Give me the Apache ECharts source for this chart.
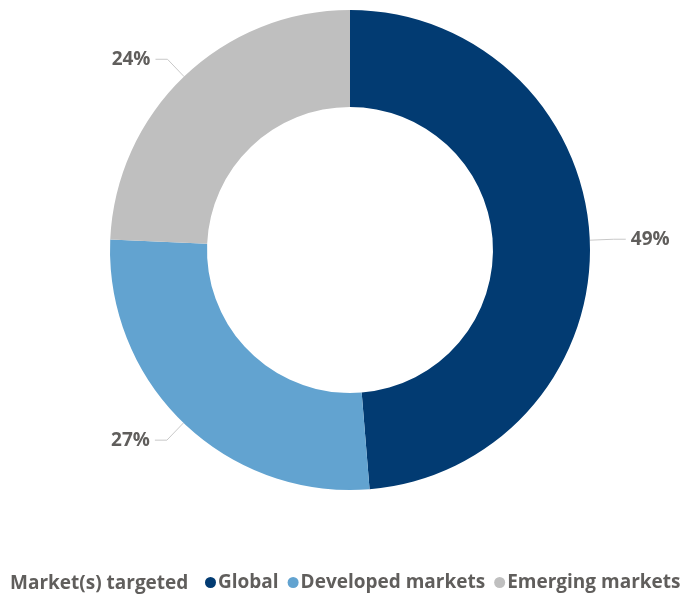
<!DOCTYPE html>
<html><head><meta charset="utf-8">
<script src="https://cdn.jsdelivr.net/npm/echarts@6/dist/echarts.min.js"></script>
<style>html,body{margin:0;padding:0;background:#fff}#c{width:686px;height:595px}</style>
</head><body><div id="c"></div>
<script>
var categories = ['Global', 'Developed markets', 'Emerging markets'];
var values = [48.7, 27.0, 24.3];
var colors = ['#023b72', '#62a3d0', '#bfbfbf'];
var legendTitle = 'Market(s) targeted';

var chart = echarts.init(document.getElementById('c'));
var txt = '#605e5c';
var font = '"Open Sans", "Noto Sans", sans-serif';
chart.setOption({
  animation: false,
  color: colors,
  graphic: [{
    type: 'text', x: 10, y: 584,
    style: { text: legendTitle, fill: txt, font: 'bold 19px ' + font, verticalAlign: 'middle' }
  }],
  legend: {
    left: 200, top: 568, width: 486, icon: 'circle', itemWidth: 11, itemHeight: 11, itemGap: 9,
    textStyle: { color: txt, fontSize: 19, fontWeight: 'bold', fontFamily: font, padding: [0, 0, 0, -3] },
    data: categories
  },
  series: [{
    type: 'pie',
    center: [350, 250],
    radius: [143, 240],
    startAngle: 90,
    clockwise: true,
    percentPrecision: 0,
    avoidLabelOverlap: false,
    label: { formatter: '{d}%', color: txt, fontSize: 19, fontWeight: 'bold', fontFamily: font },
    labelLine: { length: 24, length2: 12, lineStyle: { color: '#c8c8c8', width: 1 } },
    itemStyle: { borderWidth: 0 },
    emphasis: { disabled: true },
    data: categories.map(function (c, i) { return { name: c, value: values[i] }; })
  }]
});
</script></body></html>
